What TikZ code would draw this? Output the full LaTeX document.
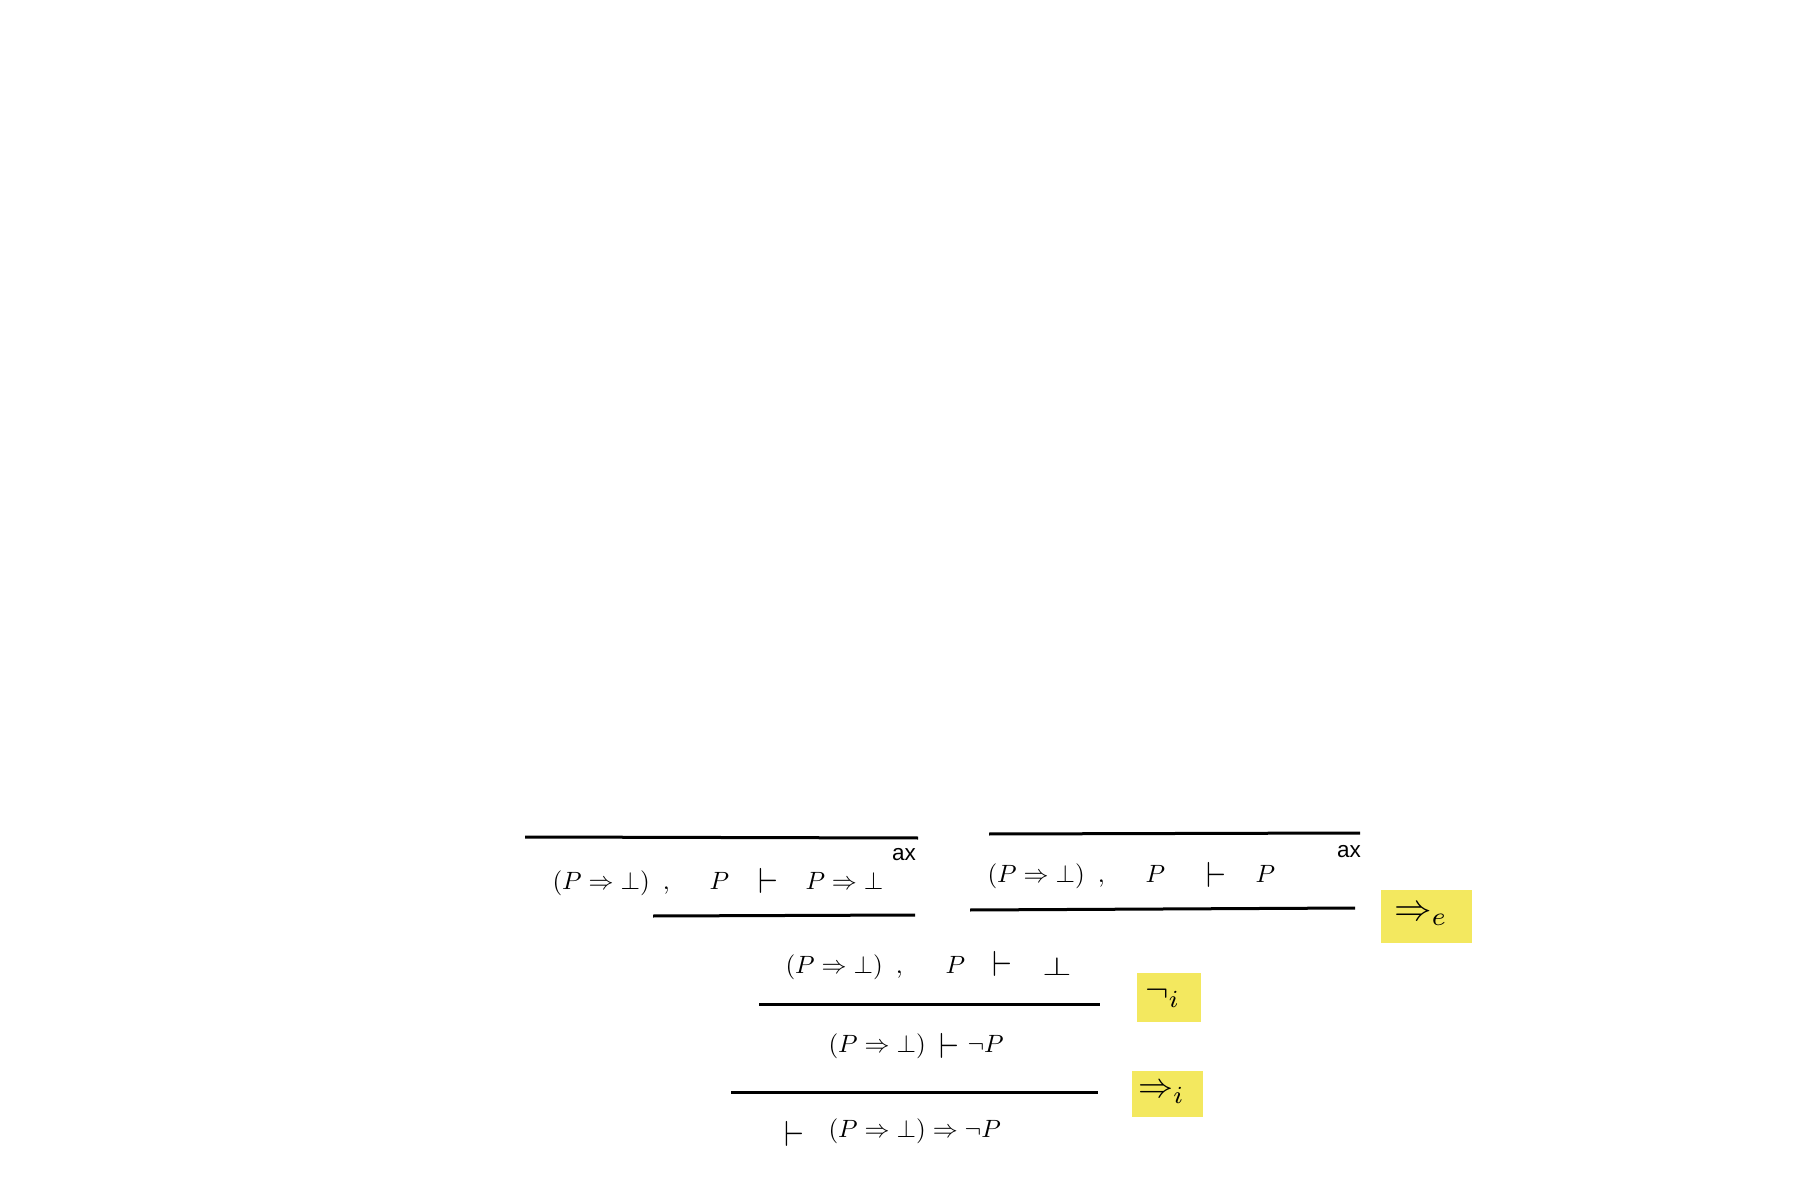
\documentclass[tikz,border=0pt]{standalone}
\usepackage{fontspec}
\usepackage{amsmath}
\usepackage{amssymb}
\newfontfamily\axfont{Liberation Sans}
\definecolor{ruleyellow}{RGB}{243,232,95}
\newcommand{\bigturn}{\scalebox{1.3}[1.45]{$\vdash$}}

\begin{document}
\begin{tikzpicture}[x=0.4pt,y=-0.4pt,
  seq/.style={anchor=base west},
  axlab/.style={font=\axfont\fontsize{9}{9}\selectfont},
  rulelab/.style={fill=ruleyellow},
  bar/.style={line width=1.2pt}]
\tikzstyle{every node}+=[inner sep=0pt]
\useasboundingbox (0,0) rectangle (1804,1203);
% left axiom
\draw [bar] (525,837) -- (918,838);
\node [seq] (la) at (552,889) {$(P \Rightarrow \bot)$\hspace{5.2pt},};
\node [seq] (lb) at (709,889) {$P$};
\node (lt) at (768,881) {\bigturn};
\node [seq] (lc) at (805,889) {$P \Rightarrow \bot$};
\node [axlab] (lax) at (904,855) {ax};
\draw [bar] (653,916) -- (915,915);
% right axiom
\draw [bar] (989,834) -- (1360,833);
\node [seq] (ra) at (987,882) {$(P \Rightarrow \bot)$\hspace{5.2pt},};
\node [seq] (rb) at (1145,882) {$P$};
\node (rt) at (1216,875) {\bigturn};
\node [seq] (rc) at (1255,882) {$P$};
\node [axlab] (rax) at (1349,852) {ax};
\draw [bar] (970,910) -- (1355,908);
\node [rulelab,minimum width=36.4pt,minimum height=21.2pt] (impe) at (1426,916) {\scalebox{1.5}{$\Rightarrow_e$}\kern4pt};
% conclusion of =>e
\node [seq] (ma) at (785,973) {$(P \Rightarrow \bot)$\hspace{5.2pt},};
\node [seq] (mb) at (945,973) {$P$};
\node (mt) at (1002,964) {\bigturn};
\node (mc) at (1057,966) {\scalebox{1.5}[1.05]{$\bot$}};
\draw [bar] (759,1004) -- (1100,1004);
\node [rulelab,minimum width=25.6pt,minimum height=19.6pt] (negi) at (1169,997) {\scalebox{1.4}{$\neg_i$}\kern5pt};
% not intro
\node [seq] (na) at (828,1052) {$(P \Rightarrow \bot)$};
\node (nt) at (949,1046) {\bigturn};
\node [seq] (nb) at (967,1052) {$\neg P$};
\draw [bar] (731,1092) -- (1098,1092);
\node [rulelab,minimum width=28.4pt,minimum height=18.4pt] (impi) at (1167,1094) {\scalebox{1.4}{$\Rightarrow_i$}\kern4.4pt};
% final
\node (ft) at (794,1134) {\bigturn};
\node [seq] (fa) at (828,1137) {$(P \Rightarrow \bot) \Rightarrow \neg P$};
\end{tikzpicture}
\end{document}
